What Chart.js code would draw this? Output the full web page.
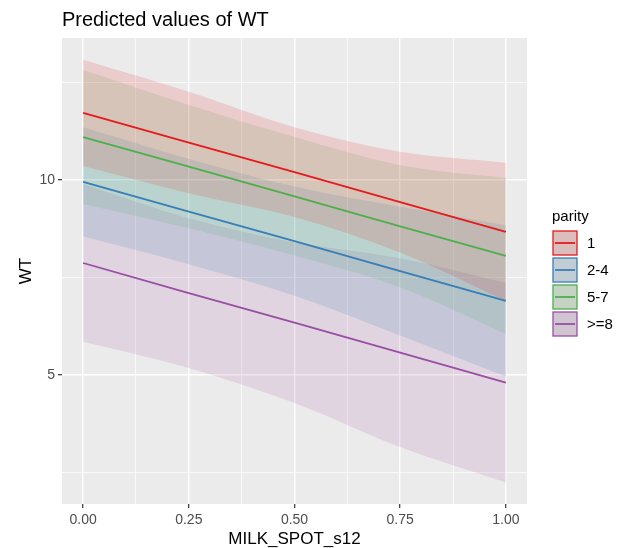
<!DOCTYPE html>
<html>
<head>
<meta charset="utf-8">
<script src="https://cdn.jsdelivr.net/npm/chart.js@4"></script>
<style>
  html, body { margin: 0; padding: 0; background: #fff; }
  #wrap { width: 623px; height: 548px; }
</style>
</head>
<body>
<div id="wrap"><canvas id="predChart" width="623" height="548"></canvas></div>
<script>
// MILK_SPOT_s12 values where predictions were read
const milkSpot = [0, 0.25, 0.5, 0.75, 1];
const parityLevels = ['1', '2-4', '5-7', '>=8'];
const parityColors = ['#E41A1C', '#377EB8', '#4DAF4A', '#984EA3'];

// predicted WT per parity group, with confidence band
const fit1 = [11.72, 10.96, 10.20, 9.43, 8.67];
const upper1 = [13.08, 12.26, 11.35, 10.72, 10.44];
const lower1 = [10.36, 9.66, 9.05, 8.14, 6.90];

const fit24 = [9.95, 9.19, 8.43, 7.66, 6.90];
const upper24 = [11.35, 10.54, 9.83, 9.31, 8.84];
const lower24 = [8.55, 7.84, 7.03, 6.01, 4.96];

const fit57 = [11.10, 10.34, 9.58, 8.81, 8.05];
const upper57 = [12.82, 11.92, 11.10, 10.38, 10.05];
const lower57 = [9.38, 8.76, 8.06, 7.24, 6.05];

const fit8 = [7.87, 7.10, 6.34, 5.57, 4.80];
const upper8 = [9.89, 9.02, 8.40, 7.99, 7.36];
const lower8 = [5.85, 5.18, 4.28, 3.15, 2.24];

const fits = [fit1, fit24, fit57, fit8];
const uppers = [upper1, upper24, upper57, upper8];
const lowers = [lower1, lower24, lower57, lower8];

const xTicks = [0, 0.125, 0.25, 0.375, 0.5, 0.625, 0.75, 0.875, 1];
const yTicks = [2.5, 5, 7.5, 10, 12.5];

function hexToRgba(hex, a) {
    const n = parseInt(hex.slice(1), 16);
    return `rgba(${(n >> 16) & 255},${(n >> 8) & 255},${n & 255},${a})`;
}

function pts(ys) {
    return milkSpot.map((x, i) => ({ x: x, y: ys[i] }));
}

const datasets = [];
parityLevels.forEach((lvl, g) => {
    datasets.push({
        label: lvl + ' upper',
        data: pts(uppers[g]),
        borderWidth: 0,
        pointRadius: 0,
        cubicInterpolationMode: 'monotone',
        backgroundColor: hexToRgba(parityColors[g], 0.15),
        fill: '+1',
        order: 2
    });
    datasets.push({
        label: lvl + ' lower',
        data: pts(lowers[g]),
        borderWidth: 0,
        pointRadius: 0,
        cubicInterpolationMode: 'monotone',
        fill: false,
        order: 2
    });
});
parityLevels.forEach((lvl, g) => {
    datasets.push({
        label: lvl,
        data: pts(fits[g]),
        borderColor: parityColors[g],
        borderWidth: 1.8,
        pointRadius: 0,
        fill: false,
        order: 1
    });
});

const isMajorX = v => Math.abs(v * 4 - Math.round(v * 4)) < 1e-6;
const isMajorY = v => v % 5 === 0;

// grey panel + texts drawn like ggplot
const ggTheme = {
    id: 'ggTheme',
    beforeDraw(chart) {
        const { ctx, chartArea: a } = chart;
        ctx.save();
        ctx.fillStyle = '#EBEBEB';
        ctx.fillRect(a.left, a.top, a.right - a.left, a.bottom - a.top);
        ctx.restore();
    },
    afterDraw(chart) {
        const ctx = chart.ctx;
        ctx.save();
        ctx.fillStyle = '#000';
        ctx.font = '20px "Liberation Sans", Arial, sans-serif';
        ctx.textBaseline = 'alphabetic';
        ctx.fillText('Predicted values of WT', 62, 26);

        // legend
        ctx.font = '15px "Liberation Sans", Arial, sans-serif';
        ctx.fillText('parity', 552, 221);
        parityLevels.forEach((lvl, i) => {
            const x = 553, y = 231 + i * 27, s = 24;
            ctx.fillStyle = '#DADADA';
            ctx.fillRect(x, y, s, s);
            ctx.fillStyle = hexToRgba(parityColors[i], 0.15);
            ctx.fillRect(x, y, s, s);
            ctx.strokeStyle = parityColors[i];
            ctx.lineWidth = 1.3;
            ctx.strokeRect(x, y, s, s);
            ctx.beginPath();
            ctx.moveTo(x + 2, y + s / 2);
            ctx.lineTo(x + s - 2, y + s / 2);
            ctx.lineWidth = 1.8;
            ctx.stroke();
            ctx.fillStyle = '#000';
            ctx.textBaseline = 'middle';
            ctx.fillText(lvl, 587, y + s / 2 + 1);
        });
        ctx.restore();
    }
};

const ctx = document.getElementById('predChart').getContext('2d');
new Chart(ctx, {
    type: 'line',
    data: { datasets: datasets },
    plugins: [ggTheme],
    options: {
        responsive: false,
        animation: false,
        layout: { padding: { top: 38, right: 96, left: 0, bottom: 0 } },
        plugins: {
            legend: { display: false },
            tooltip: { enabled: false },
            filler: { propagate: false }
        },
        scales: {
            x: {
                type: 'linear',
                min: -0.05,
                max: 1.05,
                afterBuildTicks: s => { s.ticks = xTicks.map(v => ({ value: v })); },
                afterFit: s => { s.height = 44; },
                ticks: {
                    autoSkip: false,
                    maxRotation: 0,
                    padding: 4,
                    color: '#4D4D4D',
                    font: { size: 14, family: '"Liberation Sans", Arial, sans-serif' },
                    callback: v => isMajorX(v) ? v.toFixed(2) : ''
                },
                grid: {
                    color: '#FFFFFF',
                    lineWidth: c => (c.tick && isMajorX(c.tick.value)) ? 1.4 : 0.7,
                    drawTicks: true,
                    tickLength: 4,
                    tickColor: c => (c.tick && isMajorX(c.tick.value)) ? '#333333' : 'rgba(0,0,0,0)',
                    tickWidth: 1.2
                },
                border: { display: false },
                title: {
                    display: true,
                    text: 'MILK_SPOT_s12',
                    color: '#000',
                    font: { size: 17, lineHeight: 1, family: '"Liberation Sans", Arial, sans-serif' },
                    padding: { top: 0, bottom: 0 }
                }
            },
            y: {
                type: 'linear',
                min: 1.69,
                max: 13.64,
                afterBuildTicks: s => { s.ticks = yTicks.map(v => ({ value: v })); },
                afterFit: s => { s.width = 62; },
                ticks: {
                    autoSkip: false,
                    padding: 3,
                    color: '#4D4D4D',
                    font: { size: 14, family: '"Liberation Sans", Arial, sans-serif' },
                    callback: v => isMajorY(v) ? String(v) : ''
                },
                grid: {
                    color: '#FFFFFF',
                    lineWidth: c => (c.tick && isMajorY(c.tick.value)) ? 1.4 : 0.7,
                    drawTicks: true,
                    tickLength: 4,
                    tickColor: c => (c.tick && isMajorY(c.tick.value)) ? '#333333' : 'rgba(0,0,0,0)',
                    tickWidth: 1.2
                },
                border: { display: false },
                title: {
                    display: true,
                    text: 'WT',
                    color: '#000',
                    font: { size: 17, family: '"Liberation Sans", Arial, sans-serif' },
                    padding: { top: 16, bottom: 0 }
                }
            }
        }
    }
});
</script>
</body>
</html>
